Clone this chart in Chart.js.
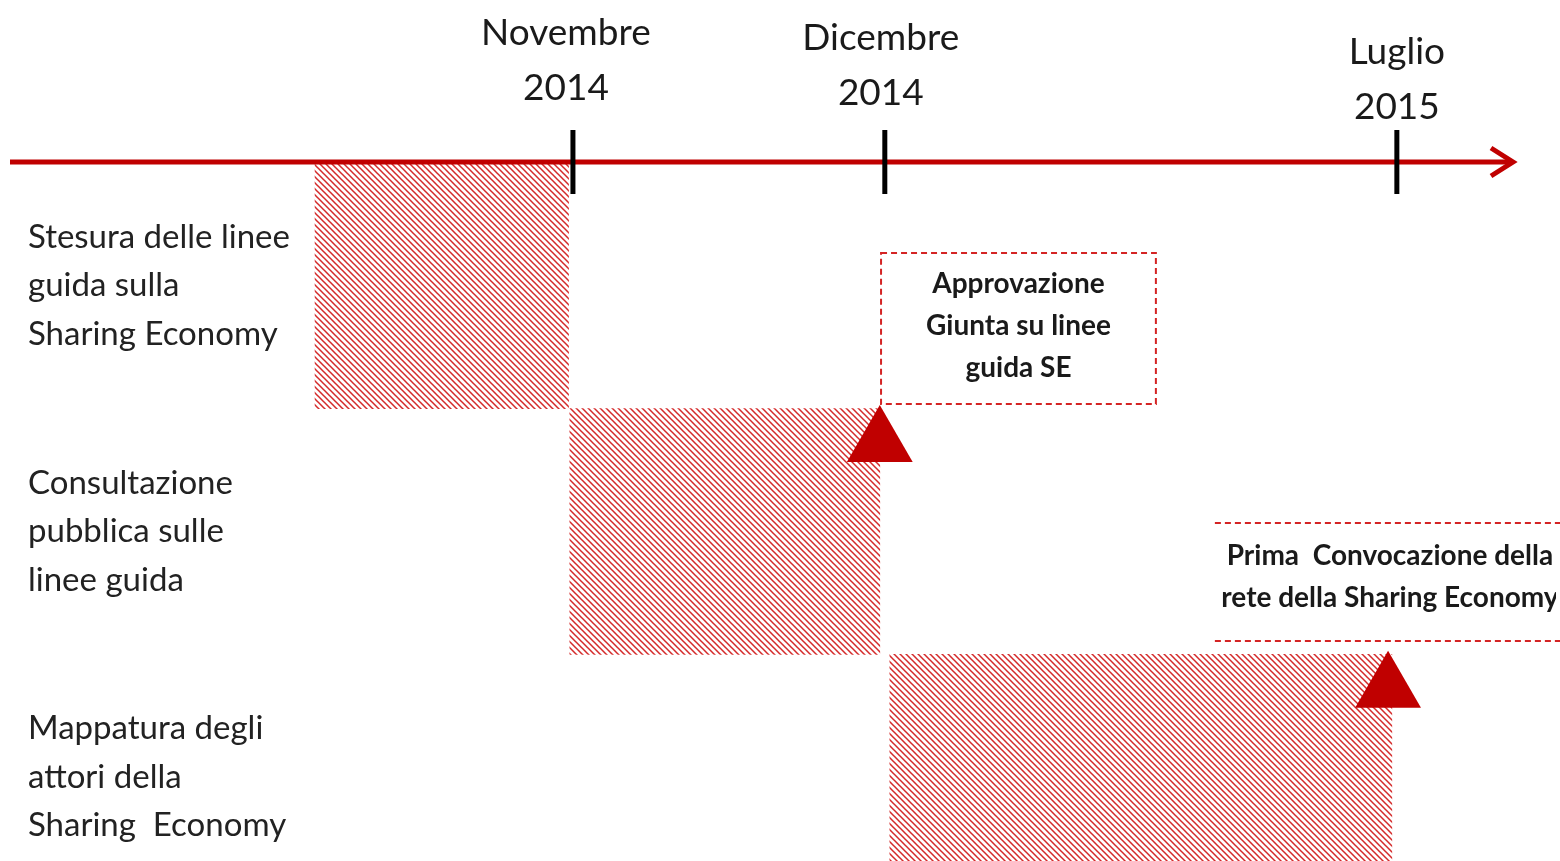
<!DOCTYPE html>
<html>
<head>
<meta charset="utf-8">
<script src="https://cdn.jsdelivr.net/npm/chart.js@4.4.0/dist/chart.umd.min.js"></script>
<style>
  html, body { margin: 0; padding: 0; background: #fff; overflow: hidden; }
  #timeline { display: block; }
</style>
</head>
<body>
<canvas id="timeline" width="1560" height="900"></canvas>
<script>
"use strict";

/* --- DATA --- */

const row_labels = [
  ['Stesura delle linee', 'guida sulla', 'Sharing Economy'],
  ['Consultazione', 'pubblica sulle', 'linee guida'],
  ['Mappatura degli', 'attori della', 'Sharing  Economy'],
];
// timeline position, 0..100
const phase_start = [0.8, 21.1, 46.6];
const phase_end = [21.0, 45.8, 86.6];

const milestone_x = [45.8, 86.3];
const milestone_row = [1, 2];

const tick_values = [21.35, 46.2, 87.0];
const tick_labels = [['Novembre', '2014'], ['Dicembre', '2014'], ['Luglio', '2015']];

const note_labels = [
  ['Approvazione', 'Giunta su linee', 'guida SE'],
  ['Prima  Convocazione della', 'rete della Sharing Economy'],
];
const note_start = [45.9, 72.5];
const note_end = [67.8, 100];

/* --- STYLE --- */

const RED = '#C00000';
const DASH_RED = '#D42424';
const note_rows = [[0.366, 0.981], [1.465, 1.946]];   // in row units (y2)
const note_text_x = [56.85, 86.45];
const note_text_dy = [-2, -5];
const note_sides = [true, false];
const label_top = [33, 38, 52];
const label_dx = [-7, -4, 0];

function make_hatch() {
  const c = document.createElement('canvas');
  c.width = 6;
  c.height = 6;
  const g = c.getContext('2d');
  g.strokeStyle = '#D42A2A';
  g.lineWidth = 1.5;
  g.beginPath();
  g.moveTo(-1, -1); g.lineTo(7, 7);
  g.moveTo(5, -1); g.lineTo(7, 1);
  g.moveTo(-1, 5); g.lineTo(1, 7);
  g.stroke();
  return g.createPattern(c, 'repeat');
}

const timeline_plugin = {
  id: 'timeline',
  beforeDatasetsDraw(chart) {
    const ctx = chart.ctx;
    const x = chart.scales.x;
    const y2 = chart.scales.y2;
    ctx.save();
    ctx.strokeStyle = DASH_RED;
    ctx.lineWidth = 2;
    ctx.setLineDash([6, 4]);
    note_labels.forEach((lines, i) => {
      const l = x.getPixelForValue(note_start[i]);
      const r = x.getPixelForValue(note_end[i]);
      const t = y2.getPixelForValue(note_rows[i][0]);
      const b = y2.getPixelForValue(note_rows[i][1]);
      ctx.beginPath();
      if (note_sides[i]) {
        ctx.rect(l, t, r - l, b - t);
      } else {
        ctx.moveTo(l, t); ctx.lineTo(r, t);
        ctx.moveTo(l, b); ctx.lineTo(r, b);
      }
      ctx.stroke();
    });
    ctx.restore();

    ctx.save();
    ctx.beginPath();
    ctx.rect(0, 0, 1556, chart.height);
    ctx.clip();
    ctx.fillStyle = '#1a1a1a';
    ctx.font = 'bold 28px Lato';
    ctx.textAlign = 'center';
    ctx.textBaseline = 'middle';
    note_labels.forEach((lines, i) => {
      const cx = x.getPixelForValue(note_text_x[i]);
      const cy = (y2.getPixelForValue(note_rows[i][0]) + y2.getPixelForValue(note_rows[i][1])) / 2;
      const n = lines.length;
      lines.forEach((s, k) => {
        ctx.fillText(s, cx, cy + (k - (n - 1) / 2) * 42 + note_text_dy[i]);
      });
    });
    ctx.restore();
  },
  afterDatasetsDraw(chart) {
    const ctx = chart.ctx;
    const x = chart.scales.x;
    const ay = 162;
    ctx.save();
    // main axis with arrow
    ctx.strokeStyle = RED;
    ctx.lineWidth = 5;
    ctx.beginPath();
    ctx.moveTo(10, ay);
    ctx.lineTo(1512, ay);
    ctx.stroke();
    ctx.beginPath();
    ctx.moveTo(1491, ay - 14);
    ctx.lineTo(1513, ay);
    ctx.lineTo(1491, ay + 14);
    ctx.stroke();
    // tick marks and labels
    ctx.strokeStyle = '#000';
    ctx.fillStyle = '#1a1a1a';
    ctx.font = '37px Lato';
    ctx.textAlign = 'center';
    ctx.textBaseline = 'middle';
    tick_values.forEach((v, i) => {
      const px = x.getPixelForValue(v);
      ctx.beginPath();
      ctx.moveTo(px, 130);
      ctx.lineTo(px, 194);
      ctx.stroke();
      tick_labels[i].forEach((s, k) => {
        ctx.fillText(s, px + label_dx[i], label_top[i] + k * 55);
      });
    });
    ctx.restore();
  }
};

const timeline = document.getElementById('timeline');

let timeline_chart = new Chart(timeline, {
  type: 'bar',
  data: {
    labels: row_labels,
    datasets: [{
      type: 'bar',
      label: 'Fasi',
      data: phase_start.map((s, i) => [s, phase_end[i]]),
      backgroundColor: make_hatch(),
      borderWidth: 0,
      grouped: false,
      barPercentage: 1,
      categoryPercentage: 1,
      xAxisID: 'x',
      yAxisID: 'y',
      order: 2
    }, {
      type: 'scatter',
      label: 'Milestone',
      indexAxis: 'x',
      data: milestone_x.map((v, i) => ({x: v, y: milestone_row[i] + 0.14})),
      pointStyle: 'triangle',
      pointRadius: 38,
      pointHoverRadius: 38,
      backgroundColor: RED,
      borderWidth: 0,
      xAxisID: 'x',
      yAxisID: 'y2',
      order: 1
    }]
  },
  options: {
    indexAxis: 'y',
    responsive: false,
    animation: false,
    events: [],
    layout: {
      autoPadding: false,
      padding: {left: 28, top: 163, right: 0, bottom: 0}
    },
    plugins: {
      legend: {
        display: false
      },
      tooltip: {
        enabled: false
      }
    },
    scales: {
      x: {
        type: 'linear',
        min: 0,
        max: 100,
        display: false
      },
      y: {
        type: 'category',
        position: 'left',
        offset: true,
        grid: {display: false},
        border: {display: false},
        ticks: {
          crossAlign: 'far',
          color: '#222',
          font: {family: 'Lato', size: 33, lineHeight: 1.47}
        },
        afterFit(scale) {
          scale.width = 277;
          // labels sit inside their rows, no extra room needed
          scale.paddingTop = 0;
          scale.paddingBottom = 0;
        }
      },
      y2: {
        type: 'linear',
        min: 0,
        max: 3,
        reverse: true,
        offset: false,
        display: false
      }
    }
  },
  plugins: [timeline_plugin]
});
</script>
</body>
</html>
